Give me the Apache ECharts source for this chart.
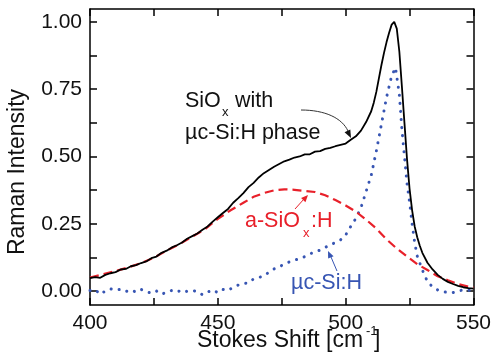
<!DOCTYPE html>
<html>
<head>
<meta charset="utf-8">
<script src="https://cdn.jsdelivr.net/npm/echarts@6/dist/echarts.min.js"></script>
<style>
  html, body { margin: 0; padding: 0; background: #fff; }
  #chart { width: 494px; height: 355px; }
</style>
</head>
<body>
<div id="chart"></div>
<script>
// Raman spectrum of SiOx with a microcrystalline silicon phase, with its two fitted components.
// Each entry: [Stokes shift (cm^-1), normalised intensity]
const measuredSpectrum = [
  [400, 0.048], [402, 0.052], [404, 0.049], [406, 0.060], [408, 0.066], [410, 0.070],
  [412, 0.080], [414, 0.082], [416, 0.092], [418, 0.096], [420, 0.104], [422, 0.110],
  [424, 0.122], [426, 0.128], [428, 0.142], [430, 0.150], [432, 0.162], [434, 0.170],
  [436, 0.180], [438, 0.194], [440, 0.204], [442, 0.214], [444, 0.228], [446, 0.240],
  [448, 0.258], [450, 0.274], [452, 0.290], [454, 0.305], [456, 0.328], [458, 0.345],
  [460, 0.364], [462, 0.386], [464, 0.402], [466, 0.422], [468, 0.438], [470, 0.450],
  [472, 0.462], [474, 0.472], [476, 0.482], [478, 0.488], [480, 0.496], [482, 0.500],
  [484, 0.508], [486, 0.508], [488, 0.518], [490, 0.520], [492, 0.528], [494, 0.532],
  [496, 0.538], [498, 0.543], [500, 0.548], [502, 0.562], [504, 0.575], [506, 0.596],
  [508, 0.628], [510, 0.668], [511, 0.700], [512, 0.740], [513, 0.790], [514, 0.840],
  [515, 0.885], [516, 0.925], [517, 0.960], [518, 0.990], [519, 1.000], [520, 0.975],
  [521, 0.890], [522, 0.760], [523, 0.625], [524, 0.490], [525, 0.380], [526, 0.300],
  [527, 0.240], [528, 0.200], [529, 0.168], [530, 0.142], [532, 0.105], [534, 0.080],
  [536, 0.060], [538, 0.045], [540, 0.034], [542, 0.026], [544, 0.019], [546, 0.014],
  [548, 0.011], [550, 0.009]
];

// Amorphous a-SiOx:H component
const amorphousComponent = [
  [400, 0.050], [405, 0.062], [410, 0.074], [415, 0.088], [420, 0.104], [425, 0.124],
  [430, 0.150], [435, 0.174], [440, 0.202], [445, 0.230], [450, 0.268], [455, 0.300],
  [460, 0.328], [464, 0.350], [468, 0.364], [472, 0.374], [476, 0.378], [480, 0.376],
  [484, 0.372], [488, 0.368], [492, 0.356], [496, 0.338], [500, 0.318], [504, 0.295],
  [508, 0.265], [512, 0.232], [516, 0.192], [520, 0.158], [524, 0.128], [528, 0.100],
  [532, 0.078], [536, 0.055], [540, 0.040], [544, 0.026], [548, 0.016], [550, 0.013]
];

// Microcrystalline uc-Si:H component
const crystallineComponent = [
  [400, 0.002], [402, 0.005], [404, -0.012], [406, 0.000], [408, 0.008], [410, 0.004],
  [412, 0.006], [414, -0.002], [416, 0.004], [418, -0.004], [420, 0.006], [422, -0.002],
  [424, -0.008], [426, 0.000], [428, -0.012], [430, -0.004], [432, 0.002], [434, -0.004],
  [436, 0.004], [438, -0.002], [440, 0.002], [442, -0.002], [444, -0.014], [446, -0.004],
  [448, 0.004], [450, -0.006], [452, 0.006], [454, 0.002], [456, 0.014], [458, 0.022],
  [460, 0.028], [462, 0.030], [464, 0.045], [466, 0.050], [468, 0.056], [470, 0.070],
  [472, 0.082], [474, 0.090], [476, 0.100], [478, 0.108], [480, 0.115], [482, 0.120],
  [484, 0.128], [486, 0.138], [488, 0.145], [490, 0.152], [492, 0.162], [494, 0.172],
  [496, 0.180], [498, 0.190], [500, 0.208], [502, 0.240], [504, 0.270], [506, 0.310],
  [508, 0.370], [510, 0.430], [512, 0.520], [514, 0.620], [516, 0.720], [518, 0.800],
  [519.5, 0.830], [521, 0.730], [522, 0.600], [523, 0.500], [524, 0.400], [525, 0.330],
  [526, 0.250], [527, 0.180], [528, 0.130], [530, 0.078], [532, 0.035], [534, 0.015],
  [536, 0.004], [538, -0.002], [540, -0.006], [542, -0.006], [544, 0.000], [546, 0.004],
  [548, 0.002], [550, 0.006]
];

const shiftLabels = [400, 450, 500, 550];
const intensityTicks = [0, 0.125, 0.25, 0.375, 0.5, 0.625, 0.75, 0.875, 1.0];
const intensityLabels = [0, 0.25, 0.5, 0.75, 1.0];

const FONT = '"Liberation Sans", Arial, sans-serif';
const RED = '#e8202a';
const BLUE = '#3755b3';

const chart = echarts.init(document.getElementById('chart'));

function frameLine() {
  return { show: true, onZero: false, lineStyle: { color: 'black', width: 1.5 } };
}
function ticks(values) {
  const t = { show: true, inside: true, length: 7, lineStyle: { color: 'black', width: 1.5 } };
  if (values) t.customValues = values;
  return t;
}
function tickLabels(values, formatter) {
  return { customValues: values, margin: 8, color: '#111', fontSize: 21, fontFamily: 'Liberation Sans', formatter: formatter };
}

function arrowHead(tipX, tipY, fromX, fromY, len, half, color) {
  const dx = tipX - fromX, dy = tipY - fromY;
  const d = Math.hypot(dx, dy);
  const ux = dx / d, uy = dy / d;
  const bx = tipX - ux * len, by = tipY - uy * len;
  return {
    type: 'polygon',
    shape: { points: [[tipX, tipY], [bx - uy * half, by + ux * half], [bx + uy * half, by - ux * half]] },
    style: { fill: color }
  };
}

function label(text, x, y, size, color) {
  return { type: 'text', x: x, y: y,
    style: { text: text, font: size + 'px ' + FONT, fill: color, textAlign: 'left', textVerticalAlign: 'middle' } };
}

// axes and spectra
chart.setOption({
  animation: false,
  grid: { left: 90, right: 20, top: 9, bottom: 50 },
  xAxis: [
    { type: 'value', min: 400, max: 550, interval: 25, position: 'bottom',
      axisLine: frameLine(), axisTick: ticks(), splitLine: { show: false },
      axisLabel: tickLabels(shiftLabels, (v) => String(v)) },
    { type: 'value', min: 400, max: 550, interval: 25, position: 'top',
      axisLine: frameLine(), axisTick: ticks(), splitLine: { show: false },
      axisLabel: { show: false } }
  ],
  yAxis: [
    { type: 'value', min: -0.052, max: 1.048, position: 'left',
      axisLine: frameLine(), axisTick: ticks(intensityTicks), splitLine: { show: false },
      axisLabel: tickLabels(intensityLabels, (v) => v.toFixed(2)) },
    { type: 'value', min: -0.052, max: 1.048, position: 'right',
      axisLine: frameLine(), axisTick: ticks(intensityTicks), splitLine: { show: false },
      axisLabel: { show: false } }
  ],
  series: [
    { type: 'line', data: crystallineComponent, showSymbol: false,
      lineStyle: { color: BLUE, width: 3, type: [0.1, 8], cap: 'round' } },
    { type: 'line', data: amorphousComponent, showSymbol: false,
      lineStyle: { color: RED, width: 2.2, type: [9, 5] } },
    { type: 'line', data: measuredSpectrum, showSymbol: false,
      lineStyle: { color: '#000', width: 1.8 } }
  ]
});

// axis titles and annotations
chart.setOption({
  graphic: [
    { type: 'text', x: 18, y: 172, rotation: Math.PI / 2,
      style: { text: 'Raman Intensity', font: '23px ' + FONT, fill: '#111', textAlign: 'center', textVerticalAlign: 'middle' } },
    { type: 'text', x: 197, y: 341,
      style: { text: 'Stokes Shift [cm', font: '23px ' + FONT, fill: '#111', textAlign: 'left', textVerticalAlign: 'middle' } },
    { type: 'text', x: 366, y: 331,
      style: { text: '-1', font: '13px ' + FONT, fill: '#111', textAlign: 'left', textVerticalAlign: 'middle' } },
    { type: 'text', x: 374, y: 341,
      style: { text: ']', font: '23px ' + FONT, fill: '#111', textAlign: 'left', textVerticalAlign: 'middle' } },

    label('SiO', 185, 101, 21.5, '#111'),
    label('x', 222, 112, 13, '#111'),
    label('with', 235, 101, 21.5, '#111'),
    label('\u00b5c-Si:H phase', 185, 133, 21.5, '#111'),
    { type: 'bezierCurve',
      shape: { x1: 301, y1: 110, cpx1: 325, cpy1: 110, cpx2: 342, cpy2: 118, x2: 348, y2: 131 },
      style: { stroke: '#333', lineWidth: 1, fill: 'none' } },
    arrowHead(351, 138, 346, 128, 8, 3.2, '#111'),

    label('a-SiO', 245, 221, 21.5, RED),
    label('x', 303, 233, 13, RED),
    label(':H', 311, 221, 21.5, RED),
    { type: 'line', shape: { x1: 295, y1: 209, x2: 304, y2: 199 }, style: { stroke: RED, lineWidth: 1 } },
    arrowHead(308, 195, 295, 209, 7, 3, RED),

    label('\u00b5c-Si:H', 291, 283, 21.5, BLUE),
    { type: 'line', shape: { x1: 337, y1: 271, x2: 331, y2: 257 }, style: { stroke: BLUE, lineWidth: 1 } },
    arrowHead(328, 251, 337, 271, 7, 3, BLUE)
  ]
});
</script>
</body>
</html>
